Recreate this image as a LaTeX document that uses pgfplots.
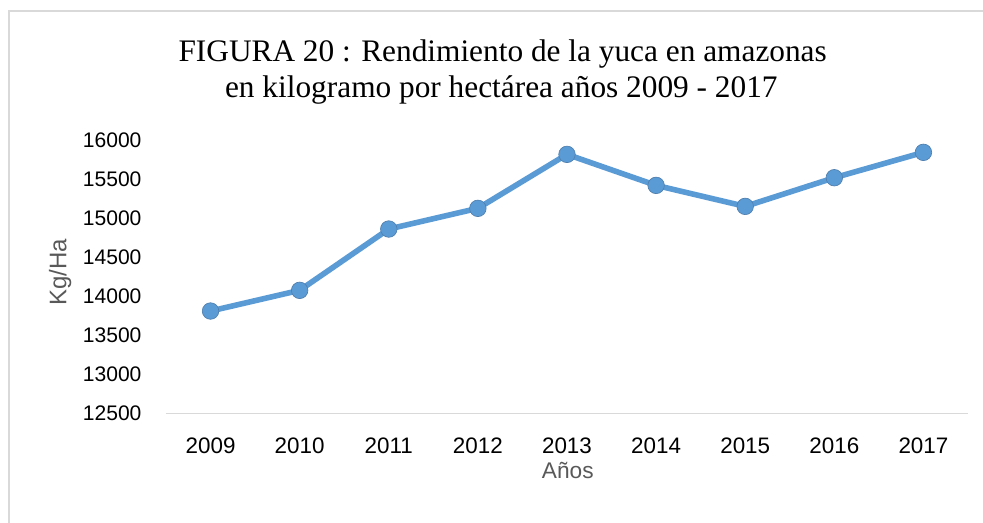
\documentclass[border=0pt]{standalone}
\usepackage{pgfplots}
\pgfplotsset{compat=1.18}
\usepackage{fontspec}
\setmainfont{Liberation Serif}
\newfontfamily\arial{Liberation Sans}
\definecolor{serie}{HTML}{5B9BD5}
\definecolor{serieedge}{HTML}{4F7FAF}
\definecolor{gridc}{HTML}{D9D9D9}
\definecolor{labc}{HTML}{595959}
\begin{document}
\begin{tikzpicture}
\useasboundingbox (0,0) rectangle (737.25pt,391.5pt);
\draw[gridc, line width=1.1pt] (6.9pt,-2pt) -- (6.9pt,383.3pt) -- (740pt,383.3pt);
\node[anchor=base, font=\fontsize{23.5}{28}\selectfont] at (377pt,345pt) {FIGURA 20 : Rendimiento de la yuca en amazonas};
\node[anchor=base, font=\fontsize{23.5}{28}\selectfont] at (376pt,318pt) {en kilogramo por hectárea años 2009 - 2017};
\begin{axis}[
  at={(124.5pt,81.5pt)}, anchor=south west,
  scale only axis, width=601.5pt, height=205pt,
  xmin=-0.5, xmax=8.5, ymin=12500, ymax=16000,
  xtick={0,...,8},
  xticklabels={2009,2010,2011,2012,2013,2014,2015,2016,2017},
  ytick={12500,13000,...,16000},
  scaled y ticks=false,
  axis x line*=bottom, axis y line*=left,
  x axis line style={draw=gridc, line width=1.1pt, -},
  y axis line style={draw=none},
  major tick length=0pt, tick style={draw=none},
  /pgf/number format/.cd, 1000 sep={}, assume math mode=true, /pgfplots/.cd,
  xticklabel style={font=\arial\fontsize{16.8}{19}\selectfont, text=black, anchor=base, yshift=-30pt},
  yticklabel style={font=\arial\fontsize{15.8}{19}\selectfont, text=black, anchor=east, inner sep=0pt, xshift=-18.2pt},
  xlabel={Años}, ylabel={Kg/Ha},
  xlabel style={font=\arial\fontsize{17}{20}\selectfont, text=labc, at={(axis description cs:0.501,-0.237)}, anchor=base},
  ylabel style={font=\arial\fontsize{18}{21}\selectfont, text=labc, at={(axis description cs:-0.132,0.517)}, anchor=center, rotate=0},
  clip=false,
]
\addplot[serie, line width=4.2pt, mark=*, mark size=6.2pt,
  mark options={fill=serie, draw=serieedge, line width=0.5pt}]
  coordinates {
  (0,13810) (1,14075) (2,14860) (3,15125) (4,15816)
  (5,15419) (6,15150) (7,15517) (8,15842)
  };
\end{axis}
\end{tikzpicture}
\end{document}
